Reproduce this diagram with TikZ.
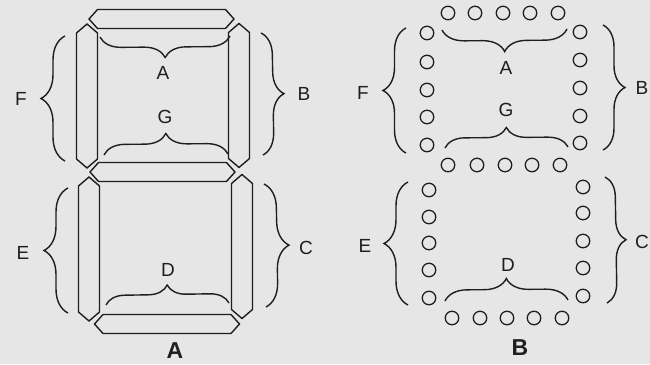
\documentclass[tikz,border=0pt]{standalone}
\usepackage{fontspec}
\setmainfont{Liberation Sans}
\usetikzlibrary{decorations.pathreplacing}
\definecolor{paper}{HTML}{E6E6E6}
\definecolor{ink}{HTML}{1E1E1E}
\tikzset{
  seg/.style={draw=ink, line width=1.4pt, line join=miter},
  hseg/.pic={\path[seg] (-72.5,0) -- (-64,-9.5) -- (64,-9.5) -- (72.5,0) -- (64,9.5) -- (-64,9.5) -- cycle;},
  vseg/.pic={\path[seg] (0,-72) -- (10.5,-63) -- (10.5,63) -- (0,72) -- (-10.5,63) -- (-10.5,-63) -- cycle;},
  dot/.style={circle, draw=ink, line width=1.3pt, minimum size=13.5pt, inner sep=0pt},
  brc/.style={draw=ink, line width=1.4pt, decorate, decoration={brace, amplitude=#1}},
  lab/.style={font=\fontsize{19}{19}\selectfont, text=ink, inner sep=0pt},
  title/.style={font=\fontsize{23}{23}\selectfont\bfseries, text=ink, inner sep=0pt}
}
\begin{document}
\begin{tikzpicture}[x=1pt,y=-1pt]
\useasboundingbox[fill=paper] (0,0) rectangle (650,364);
% ---------- Diagram A: bar segments ----------
\pic at (161.5,19) {hseg};
\pic at (162.5,172) {hseg};
\pic at (167,324) {hseg};
\pic at (87,96) {vseg};
\pic at (239,95.5) {vseg};
\pic at (89,249) {vseg};
\pic at (242,246.5) {vseg};
% braces A
\draw[brc=21] (230,36) -- (100,37);
\draw[brc=21] (104,155) -- (228,154);
\draw[brc=24] (65,161) -- (65,36);
\draw[brc=22] (261,33) -- (263,155);
\draw[brc=24] (68,313) -- (68,188);
\draw[brc=24] (264,184) -- (266,307);
\draw[brc=19] (106,305) -- (229,303);
\node[lab] (aA) at (163,73) {A};
\node[lab] (aG) at (165,117) {G};
\node[lab] (aF) at (21,99) {F};
\node[lab] (aB) at (304,94) {B};
\node[lab] (aE) at (23,253) {E};
\node[lab] (aC) at (306,248) {C};
\node[lab] (aD) at (168,270) {D};
\node[title] (tA) at (175,351) {A};
% ---------- Diagram B: dot segments ----------
\foreach \x [count=\i] in {448,475,503,530,558} \node[dot] (top\i) at (\x,13) {};
\foreach \x [count=\i] in {448,477,505,532,560} \node[dot] (mid\i) at (\x,165) {};
\foreach \x [count=\i] in {452,480,507,534,562} \node[dot] (bot\i) at (\x,318) {};
\foreach \y [count=\i] in {33,62,90,117,145} \node[dot] (ul\i) at (427,\y) {};
\foreach \y [count=\i] in {32,60,88,116,143} \node[dot] (ur\i) at (580,\y) {};
\foreach \y [count=\i] in {190,217,243,270,298} \node[dot] (ll\i) at (429,\y) {};
\foreach \y [count=\i] in {187,213,241,268,296} \node[dot] (lr\i) at (583,\y) {};
% braces B
\draw[brc=22] (567,29) -- (442,30);
\draw[brc=20] (445,148) -- (568,147);
\draw[brc=23] (406,153) -- (406,28);
\draw[brc=22] (603,25) -- (603,150);
\draw[brc=24] (408,305) -- (408,182);
\draw[brc=20] (605,177) -- (607,303);
\draw[brc=22] (445,301) -- (568,300);
\node[lab] (bA) at (506,68) {A};
\node[lab] (bG) at (506,110) {G};
\node[lab] (bF) at (363,93) {F};
\node[lab] (bB) at (642,88) {B};
\node[lab] (bE) at (365,246) {E};
\node[lab] (bC) at (642,242) {C};
\node[lab] (bD) at (508,265) {D};
\node[title] (tB) at (520,348) {B};
\end{tikzpicture}
\end{document}
